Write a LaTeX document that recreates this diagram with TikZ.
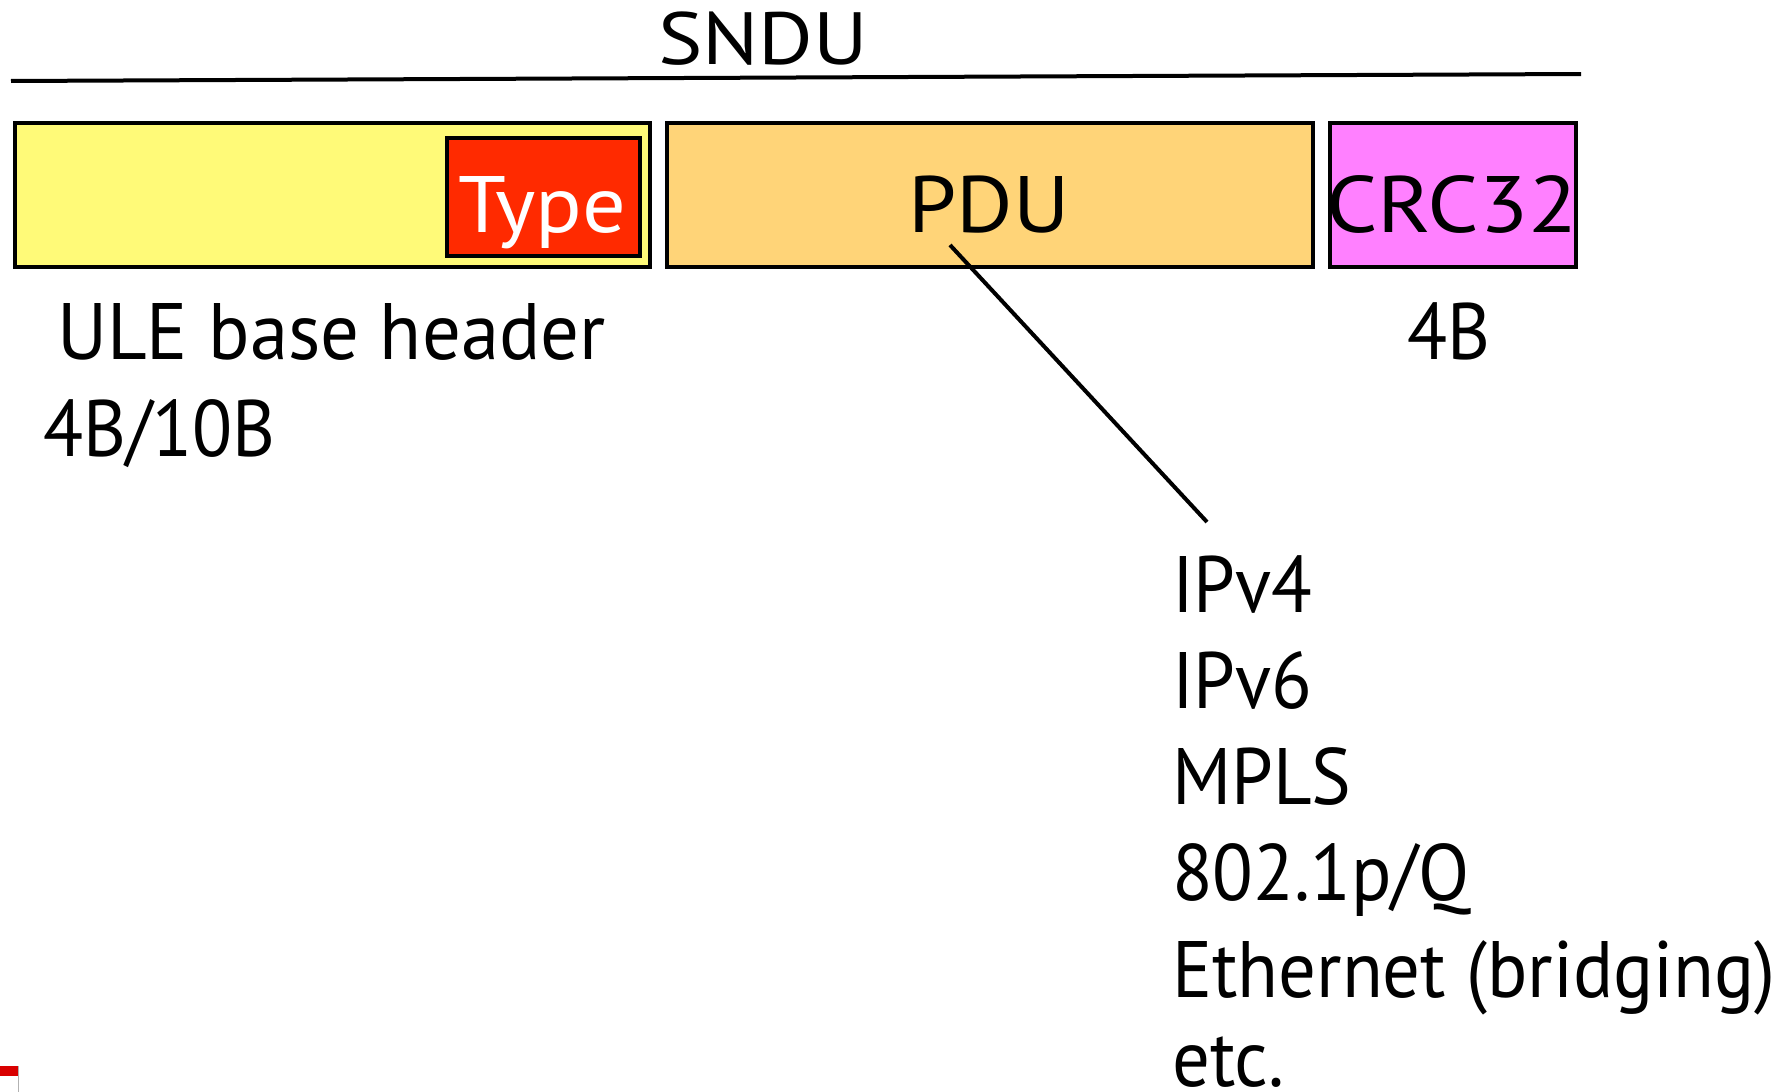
\documentclass[tikz,border=0pt]{standalone}
\usepackage{fontspec}
\setmainfont{PT Sans}
\newfontfamily\narrowf[FakeStretch=0.92]{PT Sans}
\newfontfamily\listf[FakeStretch=0.935]{PT Sans}
\newfontfamily\ulef[FakeStretch=0.96]{PT Sans}
\newfontfamily\widef[FakeStretch=1.08]{PT Sans}
\newfontfamily\wideSf[FakeStretch=1.13]{PT Sans}
\definecolor{hdryellow}{HTML}{FFFA78}
\definecolor{typered}{HTML}{FF2A00}
\definecolor{pduorange}{HTML}{FFD478}
\definecolor{crcpink}{HTML}{FF80FF}
\begin{document}
\begin{tikzpicture}[x=1pt,y=-1pt,
  field/.style={draw=black,line width=4pt},
  big/.style={font=\fontsize{80}{96}\selectfont,inner sep=0pt},
  lbl/.style={font=\narrowf\fontsize{80}{96}\selectfont,inner sep=0pt,anchor=base west},
  listitem/.style={font=\listf\fontsize{80}{96}\selectfont,inner sep=0pt,anchor=base west}]
\useasboundingbox (0,0) rectangle (1786,1092);
% SNDU title and span line
\node[font=\wideSf\fontsize{74}{84}\selectfont,inner sep=0pt,anchor=base] (sndu) at (763,64) {SNDU};
\coordinate (spanL) at (11,81);
\coordinate (spanR) at (1581,74);
\draw[line width=4pt] (spanL) -- (spanR);
% fields
\draw[field,fill=hdryellow] (15,123) rectangle (650,267);
\draw[field,fill=typered] (447,138) rectangle (640,256);
\node[big,text=white,anchor=base] (type) at (542,232) {\widef Type};
\draw[field,fill=pduorange] (667,123) rectangle (1313,267);
\node[big,anchor=base] (pdu) at (989,232) {\widef PDU};
\draw[field,fill=crcpink] (1330,123) rectangle (1576,267);
\node[big,anchor=base] (crc) at (1452,232) {\wideSf CRC32};
% labels
\node[lbl,font=\ulef\fontsize{80}{96}\selectfont] (ule) at (57,359) {ULE base header};
\node[lbl] (ulesz) at (43,456) {4B/10B};
\node[big,anchor=base,font=\narrowf\fontsize{80}{96}\selectfont] (crcsz) at (1449,359) {4B};
% list
\node[listitem] (i1) at (1172,612) {IPv4};
\node[listitem] (i2) at (1172,708) {IPv6};
\node[listitem] (i3) at (1172,804) {MPLS};
\node[listitem] (i4) at (1172,900) {802.1p/Q};
\node[listitem] (i5) at (1172,997) {Ethernet (bridging)};
\node[listitem] (i6) at (1172,1086) {etc.};
% connector
\coordinate (c1) at (950,245);
\coordinate (c2) at (1207,522);
\draw[line width=4pt] (c1) -- (c2);
% small fragment at the bottom-left corner
\fill[red!85!black] (0,1066) rectangle (18,1076);
\draw[gray!60,line width=1pt] (18,1066) -- (18,1092);
\end{tikzpicture}
\end{document}
